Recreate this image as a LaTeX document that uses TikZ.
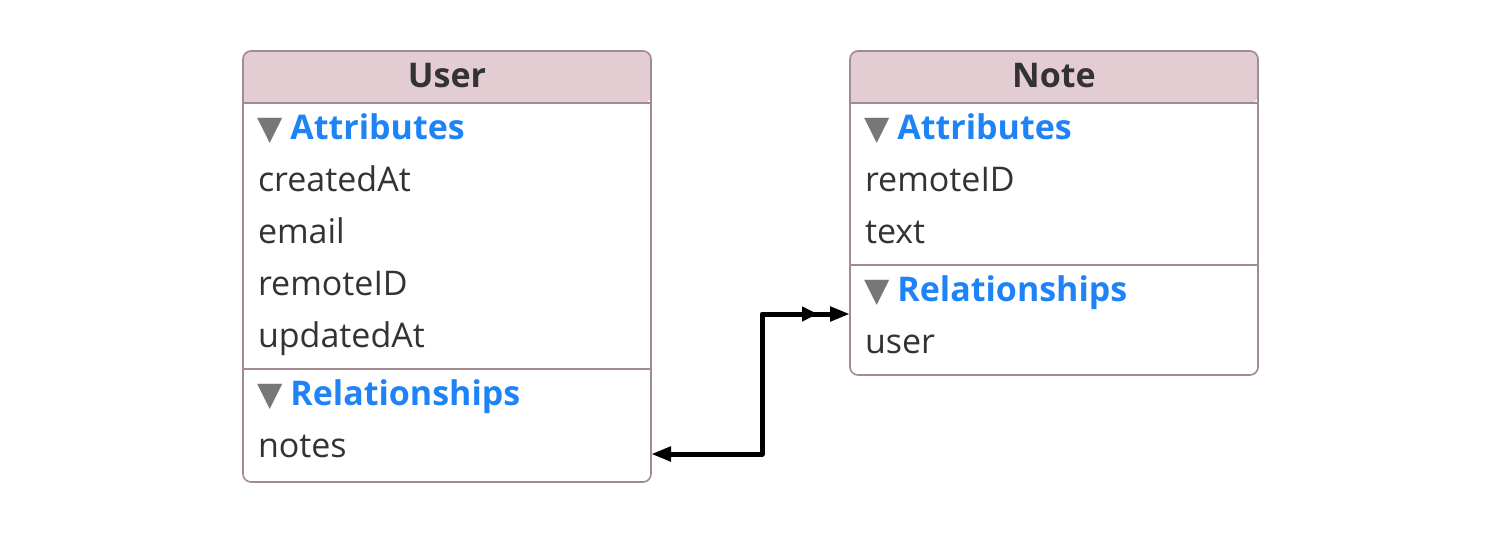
\documentclass[tikz,border=0pt]{standalone}
\usepackage{fontspec}
\setmainfont{Open Sans}
\newfontfamily\symfont{DejaVu Sans}
\usetikzlibrary{arrows.meta, positioning}
\usepackage{xcolor}
\definecolor{cHead}{HTML}{E4CCD3}
\definecolor{cFrame}{HTML}{A28A92}
\definecolor{cText}{HTML}{333333}
\definecolor{cSection}{HTML}{1E83F7}
\definecolor{cTri}{HTML}{777777}
\definecolor{cLine}{HTML}{000000}
\newcommand{\tri}{\hspace{-0.5pt}{\symfont\fontsize{16.5}{16.5}\selectfont\color{cTri}▼}\hspace{4pt}}
\tikzset{
  entity/.style = {
    rectangle,
    text=cText,
    font=\fontsize{17}{20}\selectfont\bfseries,
    minimum width=204pt,
    minimum height=26pt,
    text height=13.5pt,
    text depth=3pt,
    inner sep=0pt,
    outer sep=0pt
  },
  row/.style = {
    rectangle,
    text=cText,
    font=\fontsize{17}{20}\selectfont,
    text width=189pt,
    align=left,
    minimum height=26pt,
    text height=13.5pt,
    text depth=3pt,
    inner xsep=7.5pt,
    inner ysep=0pt,
    outer sep=0pt
  },
  section/.style = {
    row,
    font=\fontsize{17}{20}\selectfont\bfseries,
    text=cSection
  },
  frame/.style = {
    draw=cFrame,
    line width=0.8pt,
    rounded corners=4pt
  },
  divider/.style = {
    draw=cFrame,
    line width=0.8pt
  },
  line/.style = {
    draw,
    line width=2.5pt,
    color=cLine,
    line join=round,
    {Triangle[length=10pt,width=7pt]}-{Triangle[length=8pt,width=7pt,sep=6pt]Triangle[length=10pt,width=7pt]}
  },
}

\begin{document}
\begin{tikzpicture}
    \useasboundingbox (0,0) rectangle (750pt,-266pt);
    % header fills
    \fill [cHead] (121.5pt,-51.5pt) [rounded corners=4pt] -- (121.5pt,-25.5pt) -- (325.5pt,-25.5pt) -- (325.5pt,-51.5pt) [sharp corners] -- cycle;
    \fill [cHead] (425pt,-51.5pt) [rounded corners=4pt] -- (425pt,-25.5pt) -- (629pt,-25.5pt) -- (629pt,-51.5pt) [sharp corners] -- cycle;
    % User entity
    \node [entity, anchor=north west] (user) at (121.5pt,-25.5pt) {User};
    \node [section, below=0pt of user] (user-attr) {\tri Attributes};
    \node [row, below=0pt of user-attr] (user-created) {createdAt};
    \node [row, below=0pt of user-created] (user-email) {email};
    \node [row, below=0pt of user-email] (user-remote) {remoteID};
    \node [row, below=0pt of user-remote] (user-updated) {updatedAt};
    \node [section, below=3pt of user-updated] (user-rel) {\tri Relationships};
    \node [row, below=0pt of user-rel] (user-notes) {notes};
    % Note entity
    \node [entity, anchor=north west] (note) at (425pt,-25.5pt) {Note};
    \node [section, below=0pt of note] (note-attr) {\tri Attributes};
    \node [row, below=0pt of note-attr] (note-remote) {remoteID};
    \node [row, below=0pt of note-remote] (note-text) {text};
    \node [section, below=3pt of note-text] (note-rel) {\tri Relationships};
    \node [row, below=0pt of note-rel] (note-user) {user};
    % frames
    \path [divider] (user.south west) -- (user.south east);
    \path [divider] (note.south west) -- (note.south east);
    \path [divider] (user-rel.north west) -- (user-rel.north east);
    \path [divider] (note-rel.north west) -- (note-rel.north east);
    \path [frame] (user.north west) rectangle ([yshift=-4.5pt]user-notes.south east);
    \path [frame] (note.north west) rectangle ([yshift=-3pt]note-user.south east);
    % relationship
    \coordinate (user-end) at ([yshift=-3.5pt]user-notes.east);
    \coordinate (note-end) at ([yshift=1.5pt]note-user.north west);
    \coordinate (bend) at (381pt,0);
    \path [line] (user-end) -- (user-end -| bend) |- (note-end);
\end{tikzpicture}
\end{document}
